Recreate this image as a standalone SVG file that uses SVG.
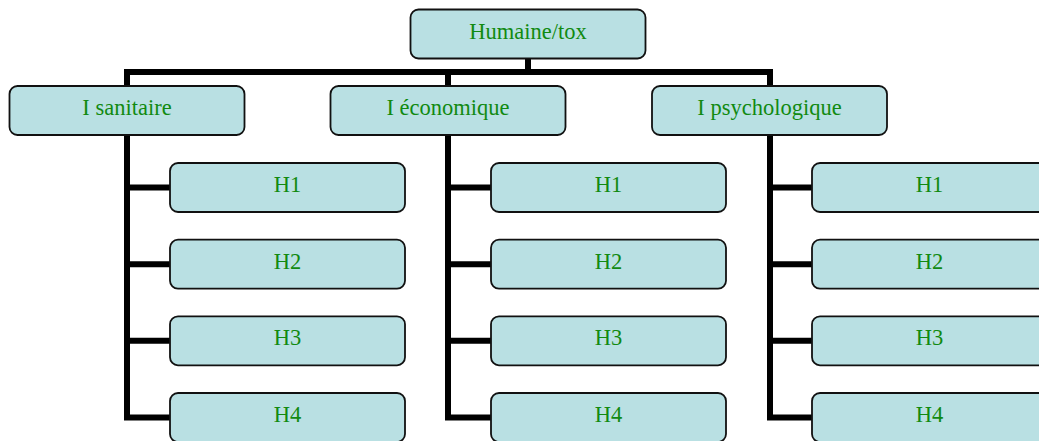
<svg xmlns="http://www.w3.org/2000/svg" width="1039" height="441" viewBox="0 0 1039 441">
<style>
.box{fill:#b9e0e3;stroke:#111;stroke-width:1.8}
.lbl{font-family:"Liberation Serif","Times New Roman",serif;font-size:22.5px;fill:#118a11;text-anchor:middle}
.conn{fill:none;stroke:#000;stroke-width:6;stroke-linecap:butt;stroke-linejoin:miter}
</style>
<rect width="1039" height="441" fill="#fff"/>
<g id="connectors" class="conn">
<path d="M528,58 V72 M124,72 H773 M127,72 V86 M448,72 V86 M770,72 V86"/>
<path d="M127,135 V420.5 M127,187.5 H170 M127,264.2 H170 M127,340.8 H170 M127,417.5 H170"/>
<path d="M448,135 V420.5 M448,187.5 H491 M448,264.2 H491 M448,340.8 H491 M448,417.5 H491"/>
<path d="M770,135 V420.5 M770,187.5 H812 M770,264.2 H812 M770,340.8 H812 M770,417.5 H812"/>
</g>
<g id="root"><rect class="box" x="410.5" y="9.5" width="235" height="49" rx="8"/><text class="lbl" x="528" y="38.6">Humaine/tox</text></g>
<g id="sanitaire"><rect class="box" x="9.5" y="86" width="235" height="49" rx="8"/><text class="lbl" x="127" y="115.2">I sanitaire</text></g>
<g id="economique"><rect class="box" x="330.5" y="86" width="235" height="49" rx="8"/><text class="lbl" x="448" y="115.2">I économique</text></g>
<g id="psychologique"><rect class="box" x="652" y="86" width="235" height="49" rx="8"/><text class="lbl" x="769.5" y="115.2">I psychologique</text></g>
<g id="s-h1"><rect class="box" x="170" y="163" width="235" height="49" rx="8"/><text class="lbl" x="287.5" y="192">H1</text></g>
<g id="s-h2"><rect class="box" x="170" y="239.7" width="235" height="49" rx="8"/><text class="lbl" x="287.5" y="268.7">H2</text></g>
<g id="s-h3"><rect class="box" x="170" y="316.3" width="235" height="49" rx="8"/><text class="lbl" x="287.5" y="345.3">H3</text></g>
<g id="s-h4"><rect class="box" x="170" y="393" width="235" height="49" rx="8"/><text class="lbl" x="287.5" y="422">H4</text></g>
<g id="e-h1"><rect class="box" x="491" y="163" width="235" height="49" rx="8"/><text class="lbl" x="608.5" y="192">H1</text></g>
<g id="e-h2"><rect class="box" x="491" y="239.7" width="235" height="49" rx="8"/><text class="lbl" x="608.5" y="268.7">H2</text></g>
<g id="e-h3"><rect class="box" x="491" y="316.3" width="235" height="49" rx="8"/><text class="lbl" x="608.5" y="345.3">H3</text></g>
<g id="e-h4"><rect class="box" x="491" y="393" width="235" height="49" rx="8"/><text class="lbl" x="608.5" y="422">H4</text></g>
<g id="p-h1"><rect class="box" x="812" y="163" width="235" height="49" rx="8"/><text class="lbl" x="929.5" y="192">H1</text></g>
<g id="p-h2"><rect class="box" x="812" y="239.7" width="235" height="49" rx="8"/><text class="lbl" x="929.5" y="268.7">H2</text></g>
<g id="p-h3"><rect class="box" x="812" y="316.3" width="235" height="49" rx="8"/><text class="lbl" x="929.5" y="345.3">H3</text></g>
<g id="p-h4"><rect class="box" x="812" y="393" width="235" height="49" rx="8"/><text class="lbl" x="929.5" y="422">H4</text></g>
</svg>
